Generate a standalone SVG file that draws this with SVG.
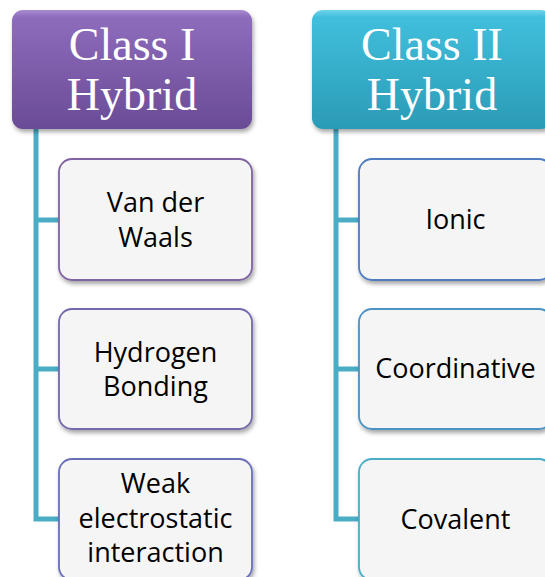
<svg xmlns="http://www.w3.org/2000/svg" width="545" height="577" viewBox="0 0 545 577">
  <defs>
    <linearGradient id="gradPurple" x1="0" y1="0" x2="0" y2="1">
      <stop offset="0" stop-color="#a88bd0"/>
      <stop offset="0.06" stop-color="#8e6cbc"/>
      <stop offset="1" stop-color="#6a4b96"/>
    </linearGradient>
    <linearGradient id="gradTeal" x1="0" y1="0" x2="0" y2="1">
      <stop offset="0" stop-color="#6fd4ea"/>
      <stop offset="0.06" stop-color="#40bfdc"/>
      <stop offset="1" stop-color="#2b9bb6"/>
    </linearGradient>
    <filter id="shadow" x="-10%" y="-10%" width="125%" height="130%">
      <feDropShadow dx="1.5" dy="3" stdDeviation="2" flood-color="#000" flood-opacity="0.35"/>
    </filter>
  </defs>
  <style>
    .header rect { filter: url(#shadow); }
    .header text { font-family: "Liberation Serif", "Times New Roman", serif; font-size: 46px; fill: #ffffff; text-anchor: middle; }
    .child rect { fill: #f5f5f5; stroke-width: 1.8; filter: url(#shadow); }
    .child text { font-family: "Open Sans", "Noto Sans", sans-serif; font-size: 27px; fill: #000000; text-anchor: middle; }
    .connectors path { fill: none; stroke: #4bacc6; stroke-width: 5; }
  </style>

  <rect width="545" height="577" fill="#ffffff"/>

  <!-- tree lines from each header down to its children -->
  <g id="connectors" class="connectors">
    <path d="M36 128 V519 H60 M36 220 H60 M36 369 H60"/>
    <path d="M336 128 V519 H360 M336 220 H360 M336 369 H360"/>
  </g>

  <g id="class1" class="header">
    <rect x="12" y="10" width="240" height="119" rx="11" fill="url(#gradPurple)"/>
    <text x="132" y="60">Class I</text>
    <text x="132" y="110">Hybrid</text>
  </g>

  <g id="class2" class="header">
    <rect x="312" y="10" width="240" height="119" rx="11" fill="url(#gradTeal)"/>
    <text x="432" y="60">Class II</text>
    <text x="432" y="110">Hybrid</text>
  </g>

  <g id="vanderwaals" class="child">
    <rect x="59" y="159" width="193" height="121" rx="13" stroke="#8064a2"/>
    <text x="155.5" y="212">Van der</text>
    <text x="155.5" y="246.5">Waals</text>
  </g>

  <g id="hydrogen" class="child">
    <rect x="59" y="309" width="193" height="120" rx="13" stroke="#7668ac"/>
    <text x="155.5" y="362">Hydrogen</text>
    <text x="155.5" y="396">Bonding</text>
  </g>

  <g id="weak" class="child">
    <rect x="59" y="459" width="193" height="121" rx="13" stroke="#6a6eb8"/>
    <text x="155.5" y="493">Weak</text>
    <text x="155.5" y="528">electrostatic</text>
    <text x="155.5" y="562">interaction</text>
  </g>

  <g id="ionic" class="child">
    <rect x="359" y="159" width="193" height="121" rx="13" stroke="#4f7dc0"/>
    <text x="455.5" y="229">Ionic</text>
  </g>

  <g id="coordinative" class="child">
    <rect x="359" y="309" width="193" height="120" rx="13" stroke="#4d92c4"/>
    <text x="455.5" y="378">Coordinative</text>
  </g>

  <g id="covalent" class="child">
    <rect x="359" y="459" width="193" height="121" rx="13" stroke="#4bacc6"/>
    <text x="455.5" y="529">Covalent</text>
  </g>
</svg>
